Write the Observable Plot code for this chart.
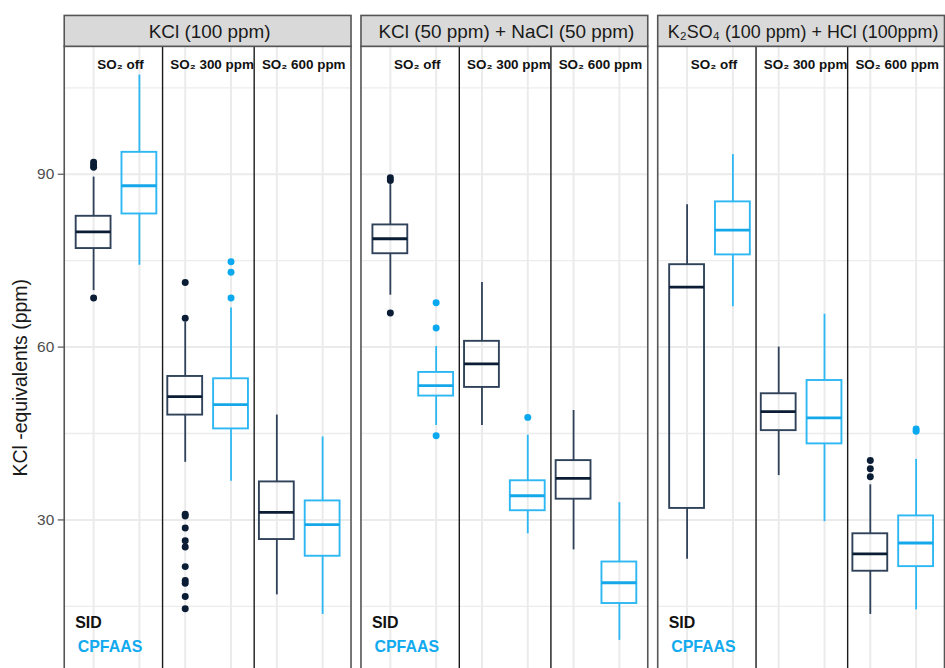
<!DOCTYPE html>
<html>
<head>
<meta charset="utf-8">
<script src="https://cdn.jsdelivr.net/npm/d3@7"></script>
<script src="https://cdn.jsdelivr.net/npm/@observablehq/plot@0.6"></script>
<style>
  html, body { margin: 0; padding: 0; background: #fff; overflow: hidden; }
  #wrap { width: 945px; height: 668px; overflow: hidden; }
</style>
</head>
<body>
<div id="wrap"></div>
<script>
// ---- data ----
const panels = ["KCl (100 ppm)", "KCl (50 ppm) + NaCl (50 ppm)", "K₂SO₄ (100 ppm) + HCl (100ppm)"];
const so2Levels = ["SO₂ off", "SO₂ 300 ppm", "SO₂ 600 ppm"];
const methods = ["SID", "CPFAAS"];
const majorTicks = [30, 60, 90];
const minorTicks = [15, 45, 75, 105];
const yLabel = "KCl -equivalents (ppm)";

// order: panel -> SO2 level -> method
const lowerWhisker = [69.8, 74.2, 40.0, 36.7, 17.0, 13.6,
                      69.0, 46.4, 46.4, 27.6, 24.8, 9.1,
                      23.2, 67.0, 37.7, 29.7, 13.6, 14.4];
const q1 =           [77.1, 83.1, 48.2, 45.8, 26.6, 23.7,
                      76.2, 51.5, 53.0, 31.6, 33.6, 15.5,
                      32.0, 76.0, 45.5, 43.2, 21.1, 21.9];
const median =       [80.0, 88.0, 51.4, 50.0, 31.3, 29.2,
                      78.8, 53.3, 57.1, 34.2, 37.2, 19.1,
                      70.4, 80.3, 48.8, 47.7, 24.1, 26.0];
const q3 =           [82.7, 93.8, 54.9, 54.5, 36.6, 33.3,
                      81.2, 55.6, 61.0, 36.8, 40.3, 22.7,
                      74.3, 85.2, 51.9, 54.2, 27.6, 30.7];
const upperWhisker = [89.5, 107.2, 64.3, 66.8, 48.2, 44.4,
                      88.2, 60.1, 71.2, 44.7, 49.0, 33.0,
                      84.7, 93.4, 60.0, 65.7, 36.1, 40.5];
const outliers = [
  [68.5, 91.2, 91.6, 92.1], [],
  [71.2, 65.0, 31.0, 30.7, 28.6, 26.4, 25.3, 21.9, 19.5, 19.0, 16.7, 14.6], [74.8, 73.0, 68.5],
  [], [],
  [89.4, 88.9, 65.9], [67.7, 63.3, 44.6],
  [], [47.8],
  [], [],
  [], [],
  [], [],
  [37.5, 38.9, 40.3], [45.4, 45.8]
];

// ---- build tables ----
const boxes = [];
let i = 0;
for (const p of panels) for (const s of so2Levels) for (const m of methods) {
  boxes.push({panel: p, so2: s, method: m, key: s + "|" + m,
    lo: lowerWhisker[i], q1: q1[i], med: median[i], q3: q3[i], hi: upperWhisker[i], out: outliers[i]});
  i++;
}
const outlierRows = boxes.flatMap(b => b.out.map(v => ({panel: b.panel, key: b.key, method: b.method, value: v})));
const xDomain = so2Levels.flatMap(s => methods.map(m => s + "|" + m));
const dividerKeys = so2Levels.slice(0, 2).map(s => s + "|CPFAAS");

// ---- style ----
const W = 949, H = 732, mL = 64, mT = 46, mB = 0, mR = 0;
const plotH = H - mT - mB;
const darkBox = "#2f4259", darkMed = "#0b1d35", darkDot = "#0b1d35";
const blueBox = "#2db7f3", blueMed = "#14a8ea", blueDot = "#0aa9ef";
const boxStroke = d => d.method === "SID" ? darkBox : blueBox;
const medStroke = d => d.method === "SID" ? darkMed : blueMed;
const font = "'Liberation Sans', Arial, Helvetica, sans-serif";
const stepX = 46.5;

const chart = Plot.plot({
  width: W, height: H,
  marginLeft: mL, marginRight: mR, marginTop: mT, marginBottom: mB,
  style: {fontFamily: font, background: "#fff"},
  fx: {domain: panels, paddingInner: 0.0332, paddingOuter: 0, axis: null},
  x: {domain: xDomain, paddingInner: 0.241, paddingOuter: 0.2225, axis: null},
  y: {domain: [-6.35, 112.2], axis: null},
  marks: [
    Plot.ruleY(minorTicks, {stroke: "#ececec", strokeWidth: 1.3}),
    Plot.ruleY(majorTicks, {stroke: "#ebebeb", strokeWidth: 2}),
    Plot.gridX({stroke: "#ebebeb", strokeOpacity: 1, strokeWidth: 2}),
    Plot.ruleX(dividerKeys, {x: d => d, dx: stepX / 2, stroke: "#1a1a1a", strokeWidth: 1.4}),
    // whiskers
    Plot.ruleX(boxes, {fx: "panel", x: "key", y1: "lo", y2: "q1", stroke: boxStroke, strokeWidth: 1.8}),
    Plot.ruleX(boxes, {fx: "panel", x: "key", y1: "q3", y2: "hi", stroke: boxStroke, strokeWidth: 1.8}),
    // boxes
    Plot.barY(boxes, {fx: "panel", x: "key", y1: "q1", y2: "q3", fill: "#fff", fillOpacity: 0, stroke: boxStroke, strokeWidth: 1.9}),
    Plot.tickY(boxes, {fx: "panel", x: "key", y: "med", stroke: medStroke, strokeWidth: 2.8}),
    Plot.dot(outlierRows, {fx: "panel", x: "key", y: "value", r: 3.5, stroke: null,
      fill: d => d.method === "SID" ? darkDot : blueDot}),
    // panel frame + strip
    Plot.frame({stroke: "#555", strokeWidth: 1.6}),
    Plot.frame({fill: "#d9d9d9", stroke: "#555", strokeWidth: 1.6, insetTop: -31, insetBottom: plotH}),
    Plot.text(panels, {fx: d => d, text: d => d, frameAnchor: "top", dx: 2, dy: -21.5,
      fontSize: d => d.length > 29 ? 18 : 19, fill: "#1a1a1a"}),
    // SO2 sub-labels
    Plot.text(so2Levels, {x: d => d + "|SID", dx: 27, text: d => d, frameAnchor: "top", dy: 13,
      fontSize: 13.5, fontWeight: "bold", fill: "#111"}),
    // in-panel legend
    Plot.text(["SID"], {frameAnchor: "top-left", textAnchor: "start", dx: 11, dy: 572.5,
      fontSize: 16, fontWeight: "bold", fill: "#111"}),
    Plot.text(["CPFAAS"], {frameAnchor: "top-left", textAnchor: "start", dx: 13.5, dy: 597,
      fontSize: 16, fontWeight: "bold", fill: "#12aaee"}),
    // y axis
    Plot.axisY({ticks: majorTicks, tickSize: 6, tickPadding: 4, fontSize: 15.5, label: null,
      color: "#4d4d4d", stroke: "#333"}),
    Plot.text([yLabel], {facet: "super", frameAnchor: "left", dx: -44, dy: 89, rotate: -90,
      fontSize: 19.5, fill: "#1a1a1a"})
  ]
});
document.getElementById("wrap").appendChild(chart);
</script>
</body>
</html>
